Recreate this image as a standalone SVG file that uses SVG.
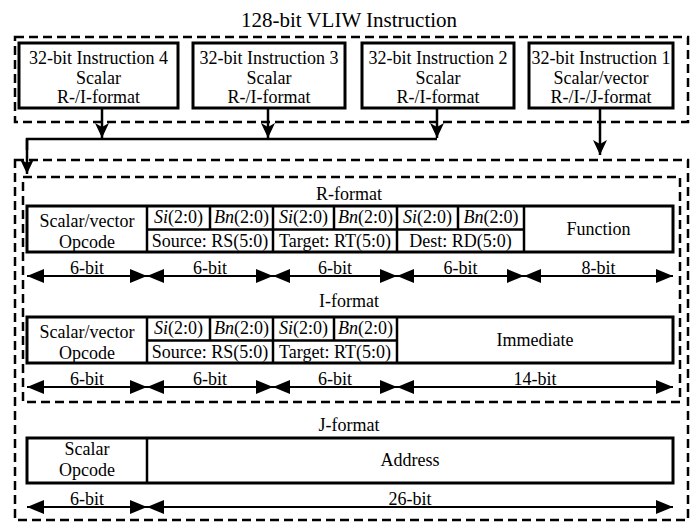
<svg xmlns="http://www.w3.org/2000/svg" width="696" height="524" viewBox="0 0 696 524" font-family="'Liberation Serif','Times New Roman',serif">
<style>
text{font-family:"Liberation Serif","Times New Roman",serif;fill:#000;text-anchor:middle}
.t{font-size:21px}
.b{font-size:18px}
.c{font-size:18px}
.it{font-style:italic}
.box{fill:#fff;stroke:#000;stroke-width:3}
.dash{fill:none;stroke:#000;stroke-width:2.5;stroke-dasharray:9 5}
.div{fill:none;stroke:#000;stroke-width:2.5}
.dim{fill:none;stroke:#000;stroke-width:2;marker-start:url(#dh);marker-end:url(#dh)}
.con{fill:none;stroke:#000;stroke-width:2.5}
.arr{marker-end:url(#ah)}
</style>
<defs>
<marker id="dh" markerUnits="userSpaceOnUse" markerWidth="17" markerHeight="14" refX="17" refY="7" orient="auto-start-reverse"><path d="M0,0 L17,7 L0,14 z" fill="#000"/></marker>
<marker id="ah" markerUnits="userSpaceOnUse" markerWidth="15" markerHeight="14" refX="15" refY="7" orient="auto"><path d="M0,0 L15,7 L0,14 L4,7 z" fill="#000"/></marker>
</defs>
<rect width="696" height="524" fill="#fff"/>
<text class="t" x="349" y="27">128-bit VLIW Instruction</text>
<g id="vliw">
<rect class="dash" x="15" y="37" width="673" height="85"/>
</g>
<g id="inst4">
<rect class="box" x="19" y="43" width="159" height="65"/>
<text class="b" x="98.5" y="64">32-bit Instruction 4</text>
<text class="b" x="98.5" y="84">Scalar</text>
<text class="b" x="98.5" y="103">R-/I-format</text>
</g>
<g id="inst3">
<rect class="box" x="193" y="43" width="152" height="65"/>
<text class="b" x="269" y="64">32-bit Instruction 3</text>
<text class="b" x="269" y="84">Scalar</text>
<text class="b" x="269" y="103">R-/I-format</text>
</g>
<g id="inst2">
<rect class="box" x="362" y="43" width="152" height="65"/>
<text class="b" x="438" y="64">32-bit Instruction 2</text>
<text class="b" x="438" y="84">Scalar</text>
<text class="b" x="438" y="103">R-/I-format</text>
</g>
<g id="inst1">
<rect class="box" x="529" y="43" width="144" height="65"/>
<text class="b" x="601" y="64">32-bit Instruction 1</text>
<text class="b" x="601" y="84">Scalar/vector</text>
<text class="b" x="601" y="103">R-/I-/J-format</text>
</g>
<g id="connectors">
<line class="con arr" x1="102" y1="108" x2="102" y2="138"/>
<line class="con arr" x1="268" y1="108" x2="268" y2="138"/>
<line class="con arr" x1="437" y1="108" x2="437" y2="138"/>
<polyline class="con" points="437,139 27,139 27,150"/>
<line class="con arr" x1="27" y1="139" x2="27" y2="174"/>
<line class="con arr" x1="600" y1="108" x2="600" y2="155"/>
</g>
<g id="formats">
<rect class="dash" x="15" y="160" width="673" height="360"/>
<rect class="dash" x="23" y="177" width="657" height="225"/>
</g>
<g id="rformat">
<text class="c" x="349" y="200">R-format</text>
<rect class="box" x="27" y="206" width="646" height="46"/>
<path class="div" d="M147,206V252 M147,229.5H524 M210,206V229.5 M273,206V252 M334,206V229.5 M397,206V252 M458,206V229.5 M524,206V252"/>
<text class="c" x="87" y="227">Scalar/vector</text>
<text class="c" x="87" y="248">Opcode</text>
<text class="c" x="178.5" y="223"><tspan class="it">Si</tspan>(2:0)</text>
<text class="c" x="241.5" y="223"><tspan class="it">Bn</tspan>(2:0)</text>
<text class="c" x="303.5" y="223"><tspan class="it">Si</tspan>(2:0)</text>
<text class="c" x="365.5" y="223"><tspan class="it">Bn</tspan>(2:0)</text>
<text class="c" x="427.5" y="223"><tspan class="it">Si</tspan>(2:0)</text>
<text class="c" x="491" y="223"><tspan class="it">Bn</tspan>(2:0)</text>
<text class="c" x="210" y="247">Source: RS(5:0)</text>
<text class="c" x="335" y="247">Target: RT(5:0)</text>
<text class="c" x="460.5" y="247">Dest: RD(5:0)</text>
<text class="c" x="598.5" y="235">Function</text>
<line class="dim" x1="27" y1="276" x2="147" y2="276"/>
<line class="dim" x1="147" y1="276" x2="273" y2="276"/>
<line class="dim" x1="273" y1="276" x2="397" y2="276"/>
<line class="dim" x1="397" y1="276" x2="524" y2="276"/>
<line class="dim" x1="524" y1="276" x2="673" y2="276"/>
<text class="c" x="87" y="274">6-bit</text>
<text class="c" x="210" y="274">6-bit</text>
<text class="c" x="335" y="274">6-bit</text>
<text class="c" x="460.5" y="274">6-bit</text>
<text class="c" x="598.5" y="274">8-bit</text>
</g>
<g id="iformat">
<text class="c" x="349" y="307">I-format</text>
<rect class="box" x="27" y="317" width="646" height="46"/>
<path class="div" d="M147,317V363 M147,340.5H397 M210,317V340.5 M273,317V363 M334,317V340.5 M397,317V363"/>
<text class="c" x="87" y="338">Scalar/vector</text>
<text class="c" x="87" y="359">Opcode</text>
<text class="c" x="178.5" y="334"><tspan class="it">Si</tspan>(2:0)</text>
<text class="c" x="241.5" y="334"><tspan class="it">Bn</tspan>(2:0)</text>
<text class="c" x="303.5" y="334"><tspan class="it">Si</tspan>(2:0)</text>
<text class="c" x="365.5" y="334"><tspan class="it">Bn</tspan>(2:0)</text>
<text class="c" x="210" y="358">Source: RS(5:0)</text>
<text class="c" x="335" y="358">Target: RT(5:0)</text>
<text class="c" x="535" y="346">Immediate</text>
<line class="dim" x1="27" y1="387" x2="147" y2="387"/>
<line class="dim" x1="147" y1="387" x2="273" y2="387"/>
<line class="dim" x1="273" y1="387" x2="397" y2="387"/>
<line class="dim" x1="397" y1="387" x2="673" y2="387"/>
<text class="c" x="87" y="385">6-bit</text>
<text class="c" x="210" y="385">6-bit</text>
<text class="c" x="335" y="385">6-bit</text>
<text class="c" x="535" y="385">14-bit</text>
</g>
<g id="jformat">
<text class="c" x="349" y="431">J-format</text>
<rect class="box" x="27" y="438" width="646" height="45"/>
<path class="div" d="M147,438V483"/>
<text class="c" x="87" y="455">Scalar</text>
<text class="c" x="87" y="476">Opcode</text>
<text class="c" x="410" y="466">Address</text>
<line class="dim" x1="27" y1="507" x2="147" y2="507"/>
<line class="dim" x1="147" y1="507" x2="673" y2="507"/>
<text class="c" x="87" y="505">6-bit</text>
<text class="c" x="410" y="505">26-bit</text>
</g>
</svg>
